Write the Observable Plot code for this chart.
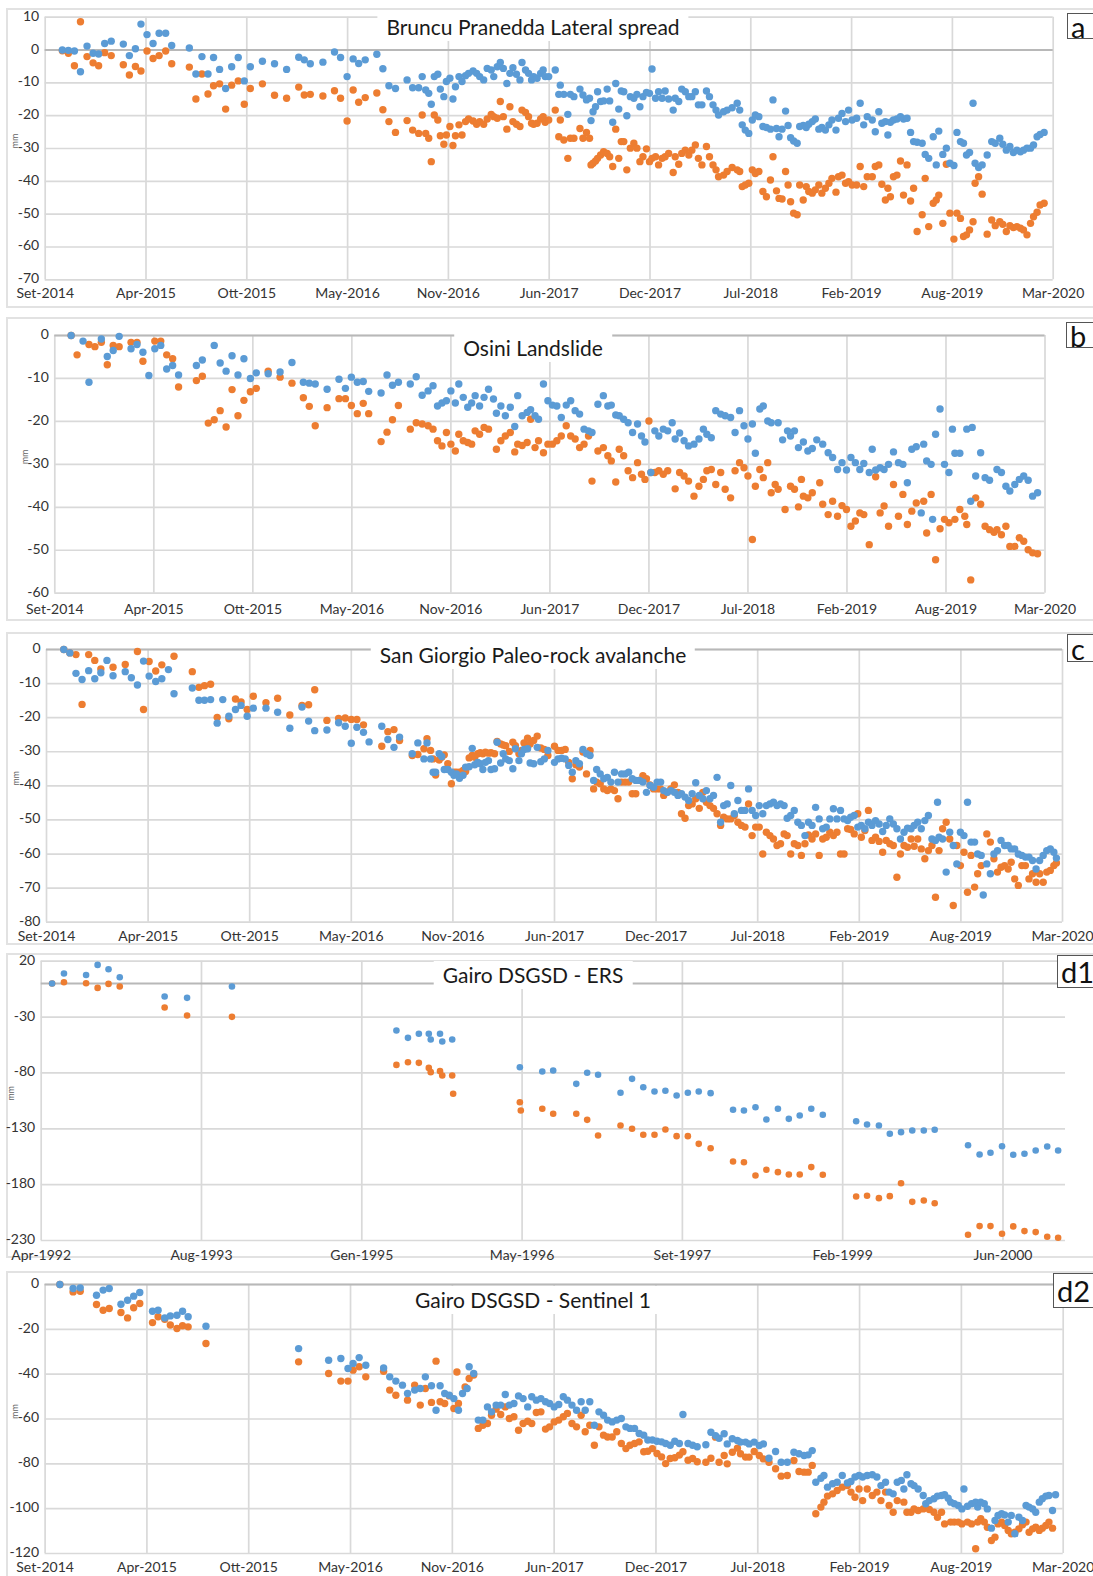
<!DOCTYPE html>
<html><head><meta charset="utf-8">
<script src="https://cdn.jsdelivr.net/npm/d3@7"></script>
<script src="https://cdn.jsdelivr.net/npm/@observablehq/plot@0.6"></script>
<style>
body{margin:0;background:#fff;}
#wrap{position:relative;width:1093px;height:1576px;overflow:hidden;font-family:Lato,"Open Sans",sans-serif;}
.frame{position:absolute;border:2px solid #e2e2e2;box-sizing:border-box;}
.panel{position:absolute;left:0;}
.title{position:absolute;background:#fff;transform:translate(-50%,-50%);font-size:21px;color:#1a1a1a;padding:0 9px;white-space:nowrap;}
.tag{position:absolute;background:#fff;border:1px solid #555;font-size:29px;color:#111;box-sizing:border-box;display:flex;align-items:center;padding-left:3px;}
</style></head><body><div id="wrap"></div>
<script>
// ---------- DATA ----------
const sentinelLabels = ["Set-2014","Apr-2015","Ott-2015","May-2016","Nov-2016","Jun-2017","Dec-2017","Jul-2018","Feb-2019","Aug-2019","Mar-2020"];
const ersLabels = ["Apr-1992","Aug-1993","Gen-1995","May-1996","Set-1997","Feb-1999","Jun-2000"];
const titles = ["Bruncu Pranedda Lateral spread","Osini Landslide","San Giorgio Paleo-rock avalanche","Gairo DSGSD - ERS","Gairo DSGSD - Sentinel 1"];
const tags = ["a","b","c","d1","d2"];

// [days since first tick, mm]
const aBlue = [[34,0],[46,-0.1],[58,-0.3],[70,-6.6],[83,1.2],[95,-1.0],[106,-1.2],[118,2.0],[131,2.7],[155,1.8],[167,-1.7],[179,0.4],[190,7.9],[202,4.7],[214,2.0],[226,5.1],[239,5.1],[251,1.4],[286,0.6],[299,-7.3],[311,-2.0],[323,-7.3],[334,-2.3],[346,-5.9],[358,-11.7],[370,-5.1],[383,-2.3],[395,-9.4],[407,-5.1],[431,-3.4],[455,-4.2],[479,-5.9],[503,-2.2],[514,-3.0],[526,-4.2],[551,-3.7],[574,-0.6],[586,-2.3],[599,-8.1],[611,-2.7],[622,-4.1],[635,-3.0],[658,-1.3],[670,-5.7],[682,-10.9],[695,-11.7],
[718,-9.1],[729,-11.5],[741,-11.5],[748,-8.1],[755,-12.2],[761,-13.2],[766,-16.5],[772,-8.1],[779,-7.4],[784,-11.9],[791,-14.2],[796,-9.6],[803,-8.6],[809,-14.9],[814,-11.2],[821,-8.1],[827,-9.6],[834,-7.8],[840,-7.1],[849,-6.4],[856,-7.1],[862,-8.1],[870,-9.1],[877,-5.6],[885,-6.1],[890,-8.1],[897,-5.1],[903,-3.8],[909,-5.6],[916,-10.2],[922,-7.1],[928,-5.4],[935,-7.4],[942,-9.1],[946,-3.8],[953,-6.1],[959,-7.1],[965,-9.1],[969,-8.1],[976,-8.6],[983,-7.1],[988,-6.1],[992,-8.1],[999,-8.1],[1012,-6.1],[1019,-13.5],[1022,-10.7],[1029,-13.5],[1037,-19.6],[1042,-13.5],[1049,-14.2],[1061,-11.9],[1067,-13.7],[1074,-15.2],[1080,-14.7],[1083,-21.5],[1087,-18.8],[1092,-17.3],[1096,-12.7],[1102,-15.7],[1108,-15.5],[1115,-11.9],[1120,-15.5],[1126,-22.0],[1132,-10.2],[1138,-18.0],[1143,-12.5],[1148,-12.7],[1154,-20.0],[1161,-14.2],[1168,-14.7],[1174,-13.5],[1180,-17.3],[1186,-14.2],[1193,-12.9],[1199,-13.2],[1204,-5.8],[1211,-14.7],[1217,-12.7],[1224,-14.7],[1230,-12.5],[1237,-14.9],[1246,-18.3],[1250,-14.7],[1257,-15.7],[1263,-11.9],[1270,-12.7],[1277,-14.2],[1283,-14.2],[1290,-12.7],[1296,-16.7],[1303,-16.7],[1312,-12.5],[1318,-14.2],[1325,-16.7],[1331,-18.3],[1336,-19.8],
[1346,-18.8],[1353,-18.3],[1363,-17.6],[1373,-16.2],[1378,-18.3],[1383,-22.8],[1389,-24.4],[1396,-25.4],[1403,-21.3],[1409,-19.8],[1416,-20.3],[1424,-23.3],[1431,-23.6],[1439,-24.1],[1444,-15.2],[1451,-23.9],[1456,-26.4],[1462,-24.1],[1469,-18.6],[1474,-23.0],[1479,-26.7],[1485,-27.7],[1492,-28.4],[1497,-23.3],[1504,-23.0],[1510,-23.6],[1515,-22.6],[1522,-21.8],[1528,-21.0],[1535,-24.1],[1541,-23.6],[1548,-24.4],[1555,-22.8],[1561,-21.3],[1569,-24.4],[1574,-20.8],[1581,-19.3],[1588,-21.8],[1594,-18.3],[1601,-21.3],[1610,-20.8],[1617,-16.2],[1624,-22.8],[1631,-20.3],[1641,-21.3],[1647,-24.9],[1654,-18.8],[1660,-22.3],[1667,-21.8],[1672,-25.9],[1677,-22.0],[1683,-21.3],[1690,-21.0],[1697,-20.3],[1703,-21.0],[1710,-20.8],[1717,-25.1],[1723,-27.9],[1730,-28.1],[1740,-28.4],[1746,-31.8],[1753,-33.0],[1762,-26.4],[1768,-35.0],[1773,-24.7],[1781,-31.8],[1788,-29.9],[1795,-34.5],[1803,-35.2],[1809,-25.1],[1816,-27.9],[1822,-28.4],[1828,-32.0],[1834,-31.2],[1841,-16.2],[1845,-34.5],[1852,-35.8],[1859,-35.0],[1869,-32.0],[1878,-27.9],[1885,-28.4],[1894,-26.9],[1900,-28.7],[1907,-30.5],[1914,-29.4],[1921,-31.2],[1928,-30.5],[1935,-31.0],[1941,-30.5],[1948,-29.9],[1955,-29.9],[1961,-28.9],[1968,-26.4],[1974,-25.7],[1982,-25.1]];
const aOrange = [[34,-0.2],[46,-1.0],[58,-4.8],[70,8.6],[83,-2.0],[95,-3.9],[106,-4.8],[118,-0.8],[131,-1.7],[155,-4.5],[167,-7.6],[179,-5.0],[190,-6.4],[202,-0.3],[214,-2.6],[226,-1.7],[239,-0.3],[251,-4.2],[286,-5.2],[299,-14.9],[311,-7.3],[323,-13.4],[334,-10.9],[346,-10.3],[358,-18.0],[370,-10.7],[383,-9.4],[395,-16.5],[407,-11.7],[431,-10.3],[455,-13.8],[479,-14.7],[503,-11.3],[514,-13.7],[526,-13.5],[551,-14.0],[574,-12.4],[586,-14.7],[599,-21.6],[611,-12.2],[622,-15.9],[635,-14.5],[658,-13.1],[670,-18.2],[682,-21.8],[695,-25.1],
[718,-21.5],[729,-24.4],[741,-25.4],[748,-19.8],[755,-25.4],[761,-26.9],[766,-34.0],[772,-19.8],[779,-21.3],[784,-26.1],[791,-28.7],[796,-25.9],[803,-23.3],[809,-29.1],[814,-26.1],[821,-22.8],[827,-25.9],[834,-21.8],[840,-21.0],[849,-21.6],[856,-22.6],[862,-21.8],[870,-22.6],[877,-21.0],[885,-19.6],[890,-20.3],[897,-20.8],[903,-15.7],[909,-20.3],[916,-24.1],[922,-17.3],[928,-21.8],[935,-22.6],[942,-23.3],[946,-18.3],[953,-19.0],[959,-20.3],[965,-22.3],[969,-22.6],[976,-22.3],[983,-21.0],[988,-20.3],[992,-22.0],[999,-21.3],[1012,-18.3],[1019,-26.4],[1022,-21.3],[1029,-27.4],[1037,-33.0],[1042,-26.9],[1049,-26.9],[1061,-23.9],[1067,-26.9],[1074,-25.1],[1080,-26.9],[1083,-35.0],[1087,-34.5],[1092,-33.8],[1096,-33.0],[1102,-32.0],[1108,-31.0],[1115,-31.5],[1120,-32.5],[1126,-35.5],[1132,-24.1],[1138,-33.0],[1143,-27.9],[1148,-27.9],[1154,-36.5],[1161,-29.9],[1168,-28.4],[1174,-29.9],[1180,-34.0],[1186,-32.5],[1193,-30.1],[1199,-34.0],[1204,-33.0],[1211,-32.5],[1217,-35.0],[1224,-33.0],[1230,-32.5],[1237,-31.5],[1246,-37.3],[1250,-32.5],[1257,-34.8],[1263,-31.5],[1270,-30.5],[1277,-32.0],[1283,-30.5],[1290,-28.9],[1296,-33.0],[1303,-35.0],[1312,-29.4],[1318,-32.5],[1325,-35.0],[1331,-36.5],[1336,-38.6],
[1346,-38.1],[1353,-37.0],[1363,-35.8],[1373,-36.5],[1378,-37.0],[1383,-41.6],[1389,-41.1],[1396,-40.6],[1403,-36.5],[1409,-37.6],[1416,-37.0],[1424,-43.1],[1431,-44.7],[1439,-39.6],[1444,-32.5],[1451,-42.9],[1456,-45.2],[1462,-45.4],[1469,-37.0],[1474,-41.1],[1479,-46.2],[1485,-49.7],[1492,-50.2],[1497,-41.1],[1504,-45.7],[1510,-41.6],[1515,-43.1],[1522,-43.6],[1528,-42.6],[1535,-41.1],[1541,-43.6],[1548,-42.1],[1555,-40.6],[1561,-39.1],[1569,-43.3],[1574,-38.6],[1581,-38.1],[1588,-40.6],[1594,-40.1],[1601,-41.1],[1610,-41.1],[1617,-35.5],[1624,-41.6],[1631,-38.6],[1641,-38.6],[1647,-35.5],[1654,-35.0],[1660,-40.9],[1667,-45.7],[1672,-42.1],[1677,-44.7],[1683,-38.6],[1690,-38.1],[1697,-33.8],[1703,-44.2],[1710,-35.0],[1717,-46.0],[1723,-42.1],[1730,-55.3],[1740,-50.2],[1746,-39.1],[1753,-53.8],[1762,-46.7],[1768,-45.7],[1773,-44.2],[1781,-52.8],[1788,-34.8],[1795,-49.7],[1803,-57.6],[1809,-49.7],[1816,-51.3],[1822,-56.8],[1828,-56.3],[1834,-54.8],[1841,-52.3],[1845,-40.6],[1852,-38.6],[1859,-43.9],[1869,-56.1],[1878,-51.8],[1885,-53.5],[1894,-52.3],[1900,-53.1],[1907,-55.3],[1914,-53.5],[1921,-54.1],[1928,-53.8],[1935,-54.3],[1941,-54.8],[1948,-56.3],[1955,-52.8],[1961,-50.8],[1968,-49.4],[1974,-47.2],[1982,-46.7]];

const bBlue = [[33,0],[57,-1.3],[69,-10.9],[94,-0.8],[106,-4.9],[118,-3.5],[130,-0.2],[154,-3.1],[166,-2.1],[178,-3.9],[190,-9.3],[202,-3.1],[214,-2.3],[226,-7.8],[238,-7.0],[250,-9.2],[286,-7.0],[298,-5.7],[322,-2.3],[334,-6.4],[346,-8.3],[358,-4.7],[370,-9.2],[382,-5.4],[395,-10.0],[407,-8.7],[431,-8.9],[455,-8.5],[479,-6.3],[502,-10.9],[514,-11.1],[526,-11.3],[550,-12.5],[574,-10.2],[587,-12.3],[599,-9.7],[611,-10.9],[623,-10.7],[634,-13.0],[659,-13.4],[671,-9.2],[682,-11.6],[694,-10.9],
[718,-11.3],[730,-9.6],[742,-13.9],[754,-12.9],[764,-11.7],[773,-16.4],[782,-15.7],[791,-15.2],[800,-12.9],[809,-15.7],[816,-11.3],[825,-14.4],[834,-16.7],[842,-15.7],[849,-14.0],[858,-16.4],[867,-14.4],[876,-12.5],[886,-14.8],[892,-18.1],[901,-16.4],[910,-18.7],[920,-16.7],[929,-21.2],[935,-14.0],[944,-18.7],[954,-17.9],[961,-17.3],[970,-18.7],[977,-19.5],[987,-11.3],[996,-15.2],[1005,-16.2],[1014,-16.4],[1023,-19.1],[1033,-16.2],[1042,-15.2],[1051,-17.5],[1060,-18.3],[1069,-21.8],[1078,-22.2],[1085,-22.6],[1097,-16.0],[1108,-14.0],[1117,-16.4],[1124,-16.2],[1133,-18.5],[1140,-18.7],[1149,-19.5],[1158,-20.3],[1167,-22.6],[1177,-20.6],[1185,-23.4],[1192,-24.8],[1204,-31.9],[1212,-22.2],[1220,-23.4],[1229,-21.8],[1238,-22.2],[1247,-20.3],[1253,-24.1],[1262,-22.7],[1271,-24.5],[1280,-25.7],[1291,-25.3],[1301,-24.1],[1310,-21.8],[1317,-23.0],[1326,-23.8],[1335,-17.5],[1345,-18.3],[1354,-18.7],[1365,-19.1],[1374,-22.6],[1383,-17.5],[1392,-21.0],[1400,-24.1],[1409,-20.6],[1415,-27.4],[1424,-17.1],[1431,-16.4],[1440,-19.9],[1447,-20.3],[1461,-20.3],[1470,-24.3],[1480,-22.2],[1486,-23.4],[1494,-22.2],[1502,-26.1],[1512,-24.8],[1521,-26.9],[1530,-26.3],[1539,-24.3],[1551,-25.3],[1562,-27.3],[1571,-28.4],[1581,-31.2],[1590,-29.6],[1599,-31.3],[1608,-28.4],[1617,-29.6],[1626,-31.2],[1634,-29.8],[1645,-31.9],[1651,-26.5],[1658,-31.3],[1667,-30.8],[1675,-31.2],[1684,-30.0],[1694,-27.1],[1704,-29.6],[1713,-30.0],[1722,-34.3],[1731,-26.5],[1740,-25.9],[1750,-41.3],[1755,-25.3],[1761,-29.2],[1770,-30.0],[1773,-42.8],[1779,-23.0],[1788,-17.1],[1797,-30.0],[1806,-31.9],[1813,-21.8],[1818,-27.4],[1828,-27.4],[1842,-21.8],[1850,-38.6],[1853,-21.4],[1860,-32.7],[1870,-27.3],[1879,-33.1],[1888,-33.7],[1903,-31.2],[1912,-31.9],[1921,-35.1],[1929,-36.2],[1939,-34.7],[1948,-33.5],[1957,-32.7],[1966,-33.7],[1975,-37.4],[1985,-36.6]];
const bOrange = [[33,0],[45,-4.5],[69,-2.1],[81,-2.6],[94,-1.6],[106,-6.8],[118,-2.3],[130,-2.6],[154,-1.6],[166,-1.6],[178,-6.0],[202,-1.3],[214,-1.3],[226,-4.5],[238,-5.4],[250,-12.0],[286,-10.5],[298,-9.5],[310,-20.4],[322,-19.6],[334,-17.5],[346,-21.3],[358,-12.6],[370,-18.7],[382,-15.1],[395,-13.1],[407,-12.3],[431,-8.3],[455,-9.7],[479,-11.1],[502,-14.5],[514,-16.5],[526,-21.0],[550,-16.8],[574,-14.7],[587,-14.7],[599,-16.3],[611,-18.2],[623,-15.8],[634,-18.2],[659,-24.7],[671,-22.5],[682,-19.6],[694,-16.3],
[718,-21.8],[730,-20.3],[742,-20.6],[754,-21.0],[764,-21.8],[773,-24.5],[782,-25.7],[791,-22.6],[800,-25.3],[809,-26.9],[816,-23.0],[825,-24.5],[834,-24.9],[842,-25.3],[849,-22.2],[858,-23.0],[867,-21.4],[876,-21.8],[892,-26.5],[901,-24.5],[910,-23.4],[920,-22.6],[929,-27.1],[935,-25.3],[944,-25.6],[954,-24.9],[961,-19.5],[970,-26.1],[977,-24.5],[987,-27.3],[996,-25.3],[1005,-25.3],[1014,-24.5],[1023,-23.4],[1033,-21.0],[1042,-23.4],[1051,-24.1],[1060,-26.1],[1069,-25.3],[1078,-23.4],[1085,-33.9],[1097,-26.9],[1108,-26.1],[1117,-28.0],[1124,-29.2],[1133,-34.1],[1140,-26.5],[1149,-28.0],[1158,-31.5],[1167,-33.1],[1177,-29.6],[1185,-32.3],[1192,-33.5],[1200,-19.9],[1204,-31.9],[1212,-31.9],[1220,-31.5],[1229,-32.3],[1238,-31.5],[1253,-35.7],[1262,-31.9],[1271,-32.7],[1280,-33.9],[1291,-37.4],[1301,-35.1],[1310,-33.5],[1317,-31.5],[1326,-31.2],[1335,-34.7],[1345,-31.9],[1354,-35.8],[1365,-37.8],[1374,-31.5],[1383,-29.6],[1392,-30.8],[1400,-32.7],[1409,-47.5],[1415,-35.1],[1424,-31.2],[1431,-33.1],[1440,-29.6],[1447,-36.6],[1455,-34.7],[1461,-35.8],[1475,-40.5],[1486,-35.1],[1494,-35.8],[1502,-39.9],[1508,-33.5],[1512,-37.4],[1521,-37.8],[1530,-36.6],[1545,-34.3],[1551,-39.3],[1562,-41.7],[1571,-38.6],[1581,-42.1],[1590,-39.6],[1599,-40.5],[1608,-44.4],[1617,-43.2],[1626,-41.3],[1634,-41.7],[1645,-48.7],[1658,-32.9],[1667,-41.3],[1675,-39.7],[1684,-44.4],[1694,-34.7],[1704,-42.1],[1713,-37.0],[1722,-44.0],[1731,-40.9],[1740,-39.0],[1755,-38.6],[1761,-46.0],[1770,-37.0],[1779,-52.2],[1788,-45.0],[1797,-42.8],[1806,-43.6],[1818,-42.8],[1828,-40.5],[1838,-42.1],[1842,-44.0],[1850,-56.9],[1860,-37.8],[1870,-39.3],[1879,-44.4],[1888,-45.2],[1897,-45.8],[1903,-45.2],[1912,-46.4],[1921,-44.4],[1929,-49.1],[1939,-49.1],[1948,-47.1],[1957,-47.9],[1966,-49.9],[1975,-50.6],[1985,-50.8]];

const cBlue = [[34,0],[46,-1.0],[58,-7.0],[70,-8.8],[83,-6.2],[95,-8.6],[107,-6.8],[119,-3.2],[131,-7.7],[155,-6.5],[167,-8.3],[179,-10.4],[191,-3.4],[202,-7.8],[215,-9.4],[227,-8.6],[240,-5.9],[251,-13.0],[287,-11.3],[300,-14.9],[311,-14.9],[323,-14.7],[336,-21.6],[347,-14.7],[359,-19.6],[372,-17.6],[383,-16.4],[395,-19.6],[407,-17.2],[432,-17.2],[455,-18.4],[479,-23.1],[503,-16.9],[516,-21.0],[528,-23.8],[552,-23.6],[575,-21.5],[588,-22.5],[600,-27.5],[611,-22.8],[624,-24.3],[635,-27.1],[660,-22.5],[672,-26.4],[684,-28.7],[695,-25.7],[720,-30.6],[731,-27.4],[743,-32.1],[749,-27.4],[756,-32.1],[761,-36.0],[766,-36.0],[773,-30.6],[778,-31.4],[783,-35.2],[790,-35.2],[797,-36.0],[802,-36.9],[807,-36.5],[813,-37.8],[820,-36.9],[825,-34.5],[832,-34.4],[838,-29.0],[843,-33.8],[849,-33.1],[854,-33.5],[859,-35.2],[864,-33.1],[870,-32.6],[875,-35.2],[882,-35.0],[887,-27.2],[894,-33.3],[899,-30.6],[904,-32.1],[911,-32.6],[918,-35.0],[923,-29.1],[930,-32.6],[935,-30.6],[940,-29.3],[947,-29.1],[952,-33.3],[959,-33.5],[966,-28.7],[973,-32.9],[980,-32.1],[987,-29.6],
[1000,-33.1],[1007,-32.1],[1014,-31.9],[1021,-32.1],[1028,-34.0],[1035,-36.0],[1042,-32.6],[1049,-33.5],[1056,-29.3],[1063,-30.6],[1070,-31.1],[1077,-38.4],[1083,-35.2],[1090,-36.5],[1097,-37.9],[1104,-37.5],[1111,-38.9],[1118,-36.0],[1125,-38.9],[1132,-36.5],[1139,-36.5],[1146,-36.0],[1153,-37.9],[1160,-38.4],[1167,-38.4],[1174,-38.9],[1181,-41.9],[1188,-39.9],[1195,-40.4],[1202,-38.9],[1209,-38.9],[1215,-41.4],[1222,-41.9],[1229,-41.4],[1236,-41.9],[1243,-42.8],[1250,-42.3],[1257,-43.3],[1264,-44.3],[1271,-42.3],[1278,-39.1],[1285,-42.8],[1292,-43.8],[1299,-41.4],[1306,-43.8],[1313,-42.8],[1320,-37.5],[1327,-50.7],[1333,-45.8],[1340,-45.3],[1347,-39.9],[1354,-48.2],[1361,-44.3],[1368,-47.2],[1375,-47.2],[1382,-40.9],[1389,-47.2],[1396,-48.7],[1403,-45.8],[1410,-48.2],[1417,-45.8],[1424,-45.3],[1431,-44.8],[1438,-45.8],[1445,-45.3],[1452,-45.8],[1458,-49.5],[1465,-48.7],[1472,-47.2],[1479,-50.7],[1486,-51.6],[1493,-54.6],[1500,-50.7],[1507,-51.6],[1514,-46.3],[1521,-49.7],[1528,-52.6],[1535,-52.1],[1542,-49.7],[1549,-46.7],[1556,-49.7],[1563,-47.2],[1570,-49.7],[1577,-50.2],[1583,-49.2],[1590,-48.7],[1597,-52.1],[1604,-51.6],[1611,-52.6],[1618,-50.7],[1625,-51.6],[1632,-50.2],[1639,-51.2],[1646,-53.4],[1653,-51.6],[1660,-49.7],[1667,-51.2],[1674,-52.6],[1681,-55.6],[1688,-53.6],[1695,-52.4],[1702,-52.6],[1708,-51.6],[1715,-50.7],[1722,-52.6],[1729,-50.2],[1736,-48.7],[1743,-55.6],[1750,-56.0],[1754,-44.8],[1757,-55.1],[1764,-55.6],[1771,-65.3],[1778,-53.6],[1785,-57.5],[1792,-62.9],[1799,-53.6],[1806,-54.6],[1813,-44.8],[1820,-56.5],[1827,-56.5],[1833,-60.0],[1840,-60.4],[1844,-72.0],[1851,-62.9],[1858,-65.8],[1865,-60.0],[1872,-59.0],[1879,-56.0],[1886,-57.5],[1893,-57.5],[1899,-58.5],[1906,-58.5],[1913,-60.0],[1920,-60.4],[1927,-60.9],[1934,-60.9],[1941,-61.9],[1948,-64.4],[1955,-61.9],[1962,-60.4],[1969,-59.0],[1976,-58.5],[1983,-59.5],[1988,-61.2]];
const cOrange = [[34,0],[46,-1.0],[58,-1.5],[70,-16.1],[83,-1.5],[95,-3.2],[107,-5.7],[131,-5.2],[155,-4.4],[179,-0.6],[191,-17.6],[202,-3.5],[215,-6.3],[227,-4.5],[251,-2.0],[287,-6.5],[300,-11.1],[311,-10.6],[323,-10.2],[336,-19.9],[359,-20.3],[372,-14.5],[383,-15.4],[395,-17.6],[407,-13.7],[432,-15.6],[455,-14.3],[479,-19.2],[503,-16.4],[516,-16.2],[528,-11.8],[552,-20.8],[575,-20.2],[588,-20.1],[600,-20.5],[611,-20.5],[624,-22.1],[660,-28.4],[672,-24.1],[684,-23.5],[695,-26.7],[720,-31.1],[731,-30.8],[743,-29.1],[749,-26.2],[756,-29.6],[761,-32.1],[766,-36.8],[773,-32.4],[778,-31.6],[783,-30.9],[790,-33.5],[797,-39.4],[802,-36.0],[807,-36.0],[813,-36.0],[820,-35.5],[825,-35.8],[832,-31.8],[838,-31.1],[843,-31.6],[849,-30.6],[854,-30.3],[859,-30.6],[864,-30.1],[870,-30.4],[875,-30.3],[882,-30.6],[887,-27.0],[894,-27.7],[899,-28.0],[904,-28.2],[911,-29.9],[918,-27.2],[923,-28.2],[930,-30.6],[935,-29.6],[940,-27.4],[947,-26.0],[952,-27.7],[959,-26.7],[966,-25.4],[973,-28.9],[980,-29.3],[987,-31.1],
[1000,-28.4],[1007,-29.6],[1014,-29.6],[1021,-29.3],[1028,-33.1],[1035,-37.9],[1042,-33.8],[1049,-34.5],[1056,-30.1],[1063,-36.5],[1070,-29.6],[1077,-40.9],[1083,-38.9],[1090,-39.4],[1097,-40.9],[1104,-41.4],[1111,-40.9],[1118,-41.4],[1125,-43.8],[1132,-38.9],[1139,-38.9],[1146,-38.9],[1153,-42.3],[1160,-42.3],[1167,-38.4],[1174,-37.0],[1181,-37.9],[1188,-39.7],[1195,-40.9],[1202,-40.9],[1209,-40.9],[1215,-42.8],[1222,-41.9],[1229,-40.9],[1236,-39.7],[1243,-41.9],[1250,-48.2],[1257,-49.5],[1264,-45.8],[1271,-45.3],[1278,-43.8],[1285,-46.6],[1292,-41.9],[1299,-44.8],[1306,-45.8],[1313,-46.6],[1320,-48.2],[1327,-51.6],[1333,-49.2],[1340,-49.7],[1347,-49.7],[1354,-48.7],[1361,-50.7],[1368,-51.6],[1375,-52.1],[1382,-45.3],[1389,-54.6],[1396,-52.1],[1403,-52.1],[1410,-60.0],[1417,-53.6],[1424,-54.6],[1431,-55.6],[1438,-57.5],[1445,-57.0],[1452,-54.1],[1458,-54.6],[1465,-60.0],[1472,-57.0],[1479,-57.5],[1486,-60.4],[1493,-57.0],[1500,-54.4],[1507,-55.6],[1514,-54.1],[1521,-60.4],[1528,-55.6],[1535,-55.1],[1542,-53.6],[1549,-54.6],[1556,-53.6],[1563,-60.0],[1570,-60.0],[1577,-52.6],[1583,-52.8],[1590,-54.1],[1597,-48.2],[1604,-55.1],[1611,-53.1],[1618,-47.2],[1625,-56.0],[1632,-55.1],[1639,-56.3],[1646,-59.5],[1653,-56.0],[1660,-57.0],[1667,-57.5],[1674,-66.8],[1681,-60.0],[1688,-57.5],[1695,-58.0],[1702,-55.6],[1708,-57.7],[1715,-55.6],[1722,-58.5],[1729,-61.4],[1736,-59.0],[1743,-57.5],[1750,-72.7],[1757,-59.0],[1764,-52.6],[1771,-50.7],[1778,-55.6],[1785,-75.1],[1792,-57.5],[1799,-63.4],[1806,-59.5],[1813,-71.2],[1820,-60.4],[1827,-69.7],[1833,-65.8],[1840,-63.4],[1851,-54.1],[1858,-56.5],[1865,-61.4],[1872,-65.3],[1879,-63.9],[1886,-63.4],[1893,-64.4],[1899,-62.4],[1906,-67.3],[1913,-69.2],[1920,-63.4],[1927,-63.4],[1934,-67.3],[1941,-65.8],[1948,-68.3],[1955,-65.8],[1962,-68.3],[1969,-65.3],[1976,-64.8],[1983,-63.4],[1988,-62.6]];

const d1Blue = [[34,0],[71,9.0],[140,7.6],[176,16.7],[210,12.8],[245,5.7],[385,-11.6],[455,-12.8],[595,-2.7],[1108,-42.0],[1144,-48.6],[1178,-45.0],[1209,-45.0],[1215,-50.1],[1244,-45.0],[1251,-51.9],[1282,-50.1],[1493,-74.9],[1563,-78.7],[1597,-77.8],[1669,-89.8],[1703,-79.9],[1737,-81.7],[1807,-97.8],[1843,-85.3],[1878,-92.8],[1913,-96.6],[1947,-96.0],[1982,-100.2],[2017,-97.8],[2051,-96.6],[2088,-98.1],[2158,-113.0],[2192,-113.6],[2228,-110.7],[2262,-121.7],[2298,-112.1],[2332,-121.1],[2366,-118.1],[2402,-112.1],[2438,-117.5],[2542,-123.2],[2576,-126.2],[2613,-127.1],[2647,-134.5],[2682,-133.0],[2717,-131.5],[2753,-131.5],[2787,-130.9],[2891,-144.7],[2927,-153.0],[2961,-151.5],[2997,-145.6],[3032,-153.3],[3067,-152.4],[3102,-149.4],[3138,-145.9],[3172,-149.4]];
const d1Orange = [[34,0],[71,1.2],[140,0.3],[176,-3.9],[210,-0.3],[245,-2.7],[385,-21.5],[455,-28.6],[595,-29.8],[1108,-72.8],[1144,-70.4],[1178,-71.0],[1209,-75.5],[1215,-79.3],[1244,-78.4],[1251,-82.3],[1282,-82.3],[1285,-98.7],[1493,-106.2],[1496,-113.6],[1563,-112.1],[1597,-116.6],[1669,-116.6],[1703,-122.0],[1737,-136.0],[1807,-127.1],[1843,-130.0],[1878,-135.4],[1913,-135.4],[1947,-130.6],[1982,-136.6],[2017,-136.6],[2051,-143.5],[2088,-147.4],[2158,-159.3],[2192,-159.9],[2228,-171.8],[2262,-166.7],[2298,-168.8],[2332,-170.9],[2366,-170.9],[2402,-164.3],[2438,-171.2],[2542,-190.6],[2576,-190.0],[2613,-192.1],[2647,-190.3],[2682,-178.7],[2717,-195.4],[2753,-194.2],[2787,-196.6],[2891,-224.9],[2927,-217.1],[2961,-217.1],[2997,-224.0],[3032,-217.4],[3067,-221.6],[3102,-222.5],[3138,-226.7],[3172,-227.6]];

const d2Blue = [[29,0],[55,-1.8],[69,-1.5],[101,-4.8],[114,-2.5],[126,-1.8],[149,-8.8],[162,-7.0],[174,-5.2],[186,-3.6],[211,-11.9],[222,-11.5],[235,-14.9],[246,-14.0],[259,-13.7],[270,-11.9],[281,-14.4],[316,-18.6],[498,-28.6],[557,-33.8],[581,-33.0],[595,-37.5],[605,-35.2],[617,-32.6],[630,-36.0],[665,-37.2],[677,-41.2],[689,-43.1],[702,-44.9],[712,-48.6],[726,-47.1],[737,-46.4],[747,-41.2],[759,-45.2],[768,-56.1],[776,-45.2],[785,-48.6],[794,-49.4],[803,-50.9],[812,-56.1],[820,-48.6],[829,-46.4],[833,-36.7],[842,-39.7],[851,-60.5],[860,-60.5],[869,-54.6],[877,-56.8],[886,-53.8],[895,-53.8],[904,-49.1],[912,-53.8],[921,-53.1],[930,-49.7],[939,-50.9],[948,-54.6],[956,-50.1],[965,-51.6],[974,-50.9],[983,-52.3],[991,-53.1],[1000,-54.6],[1009,-53.5],[1018,-50.1],[1026,-51.6],[1035,-53.8],[1044,-56.1],[1053,-52.3],[1061,-56.1],[1070,-52.3],[1079,-62.8],[1088,-56.8],[1097,-58.3],[1105,-60.5],[1114,-61.3],[1123,-60.5],[1132,-59.8],[1141,-63.5],[1149,-64.2],[1158,-64.2],[1167,-66.5],[1176,-67.2],[1184,-69.4],[1193,-69.4],[1202,-69.9],[1211,-70.2],[1219,-70.9],[1228,-71.7],[1237,-69.9],[1246,-70.9],[1253,-58.0],[1263,-70.9],[1272,-71.7],[1281,-72.4],
[1298,-71.5],[1308,-65.9],[1317,-67.4],[1324,-68.6],[1334,-66.6],[1340,-71.1],[1350,-68.8],[1360,-69.6],[1366,-70.3],[1376,-70.3],[1383,-71.1],[1393,-70.3],[1403,-71.8],[1411,-71.1],[1422,-77.5],[1435,-74.5],[1446,-79.3],[1458,-79.3],[1471,-74.8],[1481,-75.5],[1491,-76.3],[1499,-76.0],[1507,-74.1],[1514,-88.2],[1524,-86.4],[1530,-85.2],[1537,-90.4],[1547,-88.9],[1556,-88.2],[1566,-85.2],[1576,-88.5],[1583,-87.9],[1591,-85.9],[1599,-85.2],[1606,-85.9],[1615,-85.2],[1625,-84.9],[1634,-85.9],[1642,-89.7],[1651,-88.2],[1658,-92.6],[1666,-93.4],[1674,-88.2],[1682,-87.4],[1687,-91.2],[1693,-84.9],[1701,-88.9],[1707,-89.7],[1715,-91.2],[1725,-94.1],[1730,-97.8],[1737,-96.4],[1746,-95.6],[1753,-94.4],[1761,-94.1],[1767,-93.8],[1774,-95.3],[1779,-97.1],[1786,-97.8],[1794,-98.6],[1801,-100.1],[1805,-91.2],[1812,-98.9],[1820,-97.8],[1828,-97.1],[1832,-99.3],[1838,-97.1],[1845,-97.8],[1851,-100.1],[1859,-108.7],[1866,-105.3],[1872,-103.0],[1879,-102.3],[1885,-102.8],[1892,-106.0],[1898,-103.0],[1905,-111.2],[1913,-103.8],[1920,-105.3],[1927,-98.6],[1933,-99.3],[1940,-100.1],[1946,-101.6],[1953,-97.1],[1959,-95.6],[1966,-94.4],[1972,-94.1],[1979,-100.8],[1985,-93.8]];
const d2Orange = [[29,0],[55,-3.3],[69,-3.0],[101,-8.9],[114,-11.5],[126,-10.7],[149,-12.5],[162,-14.9],[174,-10.4],[186,-8.5],[211,-17.0],[222,-14.4],[235,-15.5],[246,-18.1],[259,-19.6],[270,-18.4],[281,-18.9],[316,-26.3],[498,-34.5],[557,-39.7],[581,-43.1],[595,-43.1],[605,-38.2],[617,-36.7],[630,-41.2],[665,-38.7],[677,-47.1],[689,-49.4],[712,-51.6],[726,-44.9],[737,-53.8],[747,-46.4],[759,-52.6],[768,-34.2],[776,-52.3],[785,-53.1],[794,-49.7],[803,-55.3],[809,-39.0],[812,-53.1],[825,-45.7],[833,-41.9],[842,-40.4],[851,-64.2],[860,-62.8],[869,-62.0],[877,-58.3],[886,-55.6],[895,-58.0],[904,-54.6],[912,-59.8],[921,-59.0],[930,-65.0],[939,-62.0],[948,-61.0],[956,-62.0],[965,-57.1],[974,-56.8],[983,-64.5],[991,-63.5],[1000,-61.3],[1009,-60.5],[1018,-59.0],[1026,-57.5],[1035,-62.0],[1044,-63.5],[1053,-58.3],[1061,-65.7],[1070,-62.8],[1079,-71.7],[1088,-63.5],[1097,-67.2],[1105,-68.0],[1114,-68.0],[1123,-65.7],[1132,-70.9],[1141,-73.2],[1149,-71.7],[1158,-70.9],[1167,-70.2],[1176,-74.6],[1184,-74.4],[1193,-73.2],[1202,-75.4],[1211,-76.9],[1219,-79.9],[1228,-77.6],[1237,-77.3],[1246,-76.1],[1253,-74.6],[1263,-78.4],[1272,-77.6],[1281,-79.1],
[1298,-79.3],[1308,-77.5],[1317,-68.1],[1324,-79.3],[1334,-76.3],[1340,-80.0],[1350,-74.8],[1360,-73.0],[1366,-75.5],[1376,-77.0],[1383,-77.0],[1393,-74.5],[1403,-76.3],[1411,-77.8],[1422,-79.3],[1435,-82.2],[1446,-85.5],[1458,-85.2],[1471,-78.5],[1481,-83.4],[1491,-83.7],[1499,-83.7],[1507,-80.7],[1514,-102.3],[1524,-99.3],[1530,-97.1],[1537,-94.4],[1547,-93.4],[1556,-91.9],[1566,-90.4],[1576,-89.7],[1583,-92.6],[1591,-94.9],[1599,-91.2],[1606,-96.4],[1615,-91.2],[1625,-94.1],[1634,-92.6],[1642,-96.4],[1651,-92.6],[1658,-98.6],[1666,-101.6],[1674,-96.4],[1687,-97.1],[1693,-101.6],[1701,-101.6],[1707,-100.1],[1715,-100.8],[1725,-100.1],[1737,-100.4],[1746,-101.6],[1753,-103.8],[1761,-101.6],[1767,-106.8],[1779,-106.0],[1786,-106.0],[1794,-106.0],[1801,-106.8],[1812,-106.0],[1820,-106.8],[1828,-117.9],[1832,-106.0],[1838,-104.5],[1845,-106.0],[1851,-108.3],[1859,-114.2],[1866,-112.7],[1872,-106.8],[1879,-106.0],[1885,-107.5],[1892,-109.7],[1898,-111.2],[1905,-110.5],[1913,-109.0],[1920,-107.2],[1927,-106.0],[1933,-110.5],[1940,-109.0],[1946,-108.3],[1953,-109.7],[1959,-108.7],[1966,-107.5],[1972,-106.0],[1979,-108.7]];

// ---------- LAYOUT ----------
const BLUE = "#5b9bd5", ORANGE = "#ed7d31";
const panels = [
  {top:8,   height:300, left:44.7, right:1052.7, yTop:16.7,  yBot:279.3, yDomain:[-70,10],  yStep:10, xStep:200, xLabels:sentinelLabels, xPad:8.5, blue:aBlue,  orange:aOrange,  r:3.7, titleY:27,   tag:{l:1067,t:13,w:28,h:26}},
  {top:317, height:304, left:54.3, right:1044.5, yTop:335,   yBot:592.7, yDomain:[-60,0],   yStep:10, xStep:200, xLabels:sentinelLabels, xPad:11,  blue:bBlue,  orange:bOrange,  r:3.7, titleY:348,  tag:{l:1066,t:322,w:28,h:26}},
  {top:632, height:313, left:46,   right:1062,   yTop:649,   yBot:921.7, yDomain:[-80,0],   yStep:10, xStep:200, xLabels:sentinelLabels, xPad:8.5, blue:cBlue,  orange:cOrange,  r:3.7, titleY:655,  tag:{l:1067,t:634,w:28,h:28}},
  {top:953, height:305, left:40.7, right:1065,   yTop:960.7, yBot:1240,  yDomain:[-230,20], yStep:50, xStep:500, xLabels:ersLabels,      xPad:9.5, blue:d1Blue, orange:d1Orange, r:3.3, titleY:975,  tag:{l:1057,t:955,w:38,h:33}},
  {top:1271,height:307, left:44.6, right:1062.7, yTop:1284,  yBot:1553,  yDomain:[-120,0],  yStep:20, xStep:200, xLabels:sentinelLabels, xPad:9,   blue:d2Blue, orange:d2Orange, r:3.7, titleY:1300, tag:{l:1053,t:1273,w:42,h:35}}
];
panels[3].xMax = 3195;

const wrap = document.getElementById("wrap");
panels.forEach((p, i) => {
  const frame = document.createElement("div");
  frame.className = "frame";
  Object.assign(frame.style, {left:"6px", top:p.top+"px", width:"1092px", height:p.height+"px"});
  wrap.appendChild(frame);

  const xTicks = p.xLabels.map((_, k) => k * p.xStep);
  const xMax = p.xMax ?? xTicks[xTicks.length - 1];
  const fmt = new Map(xTicks.map((t, k) => [t, p.xLabels[k]]));
  const yTicks = d3.range(p.yDomain[0], p.yDomain[1] + 0.001, p.yStep);
  const rows = arr => arr.map(([d, v]) => ({d, v}));
  const grid = {stroke:"#d9d9d9", strokeOpacity:1, strokeWidth:1.7};

  const chart = Plot.plot({
    width:1093, height:p.height,
    marginLeft:p.left, marginRight:1093 - p.right,
    marginTop:p.yTop - p.top, marginBottom:p.top + p.height - p.yBot,
    x:{domain:[0, xMax]},
    y:{domain:p.yDomain},
    style:{fontFamily:"Lato, sans-serif", fontSize:"14px", color:"#333", background:"transparent", overflow:"visible"},
    marks:[
      Plot.gridX(xTicks, grid),
      Plot.gridY(yTicks, grid),
      Plot.ruleY([0], {stroke:"#b8b8b8", strokeWidth:2}),
      Plot.axisX(xTicks, {tickSize:0, tickPadding:p.xPad, tickFormat:d => fmt.get(d), label:null, fontSize:14}),
      Plot.axisY(yTicks, {tickSize:0, tickPadding:6, tickFormat:d => String(d), label:null, fontSize:14, dy:-1}),
      Plot.text(["mm"], {text:d => d, frameAnchor:"left", rotate:-90, dx:-30, fontSize:9, fill:"#666"}),
      Plot.dot(rows(p.orange), {x:"d", y:"v", r:p.r, fill:ORANGE}),
      Plot.dot(rows(p.blue), {x:"d", y:"v", r:p.r, fill:BLUE})
    ]
  });
  chart.classList.add("panel");
  chart.style.top = p.top + "px";
  wrap.appendChild(chart);

  const t = document.createElement("div");
  t.className = "title";
  t.textContent = titles[i];
  Object.assign(t.style, {left:"533px", top:p.titleY + "px", lineHeight:"28px"});
  wrap.appendChild(t);

  const g = document.createElement("div");
  g.className = "tag";
  g.textContent = tags[i];
  Object.assign(g.style, {left:p.tag.l+"px", top:p.tag.t+"px", width:p.tag.w+"px", height:p.tag.h+"px"});
  wrap.appendChild(g);
});
</script></body></html>
